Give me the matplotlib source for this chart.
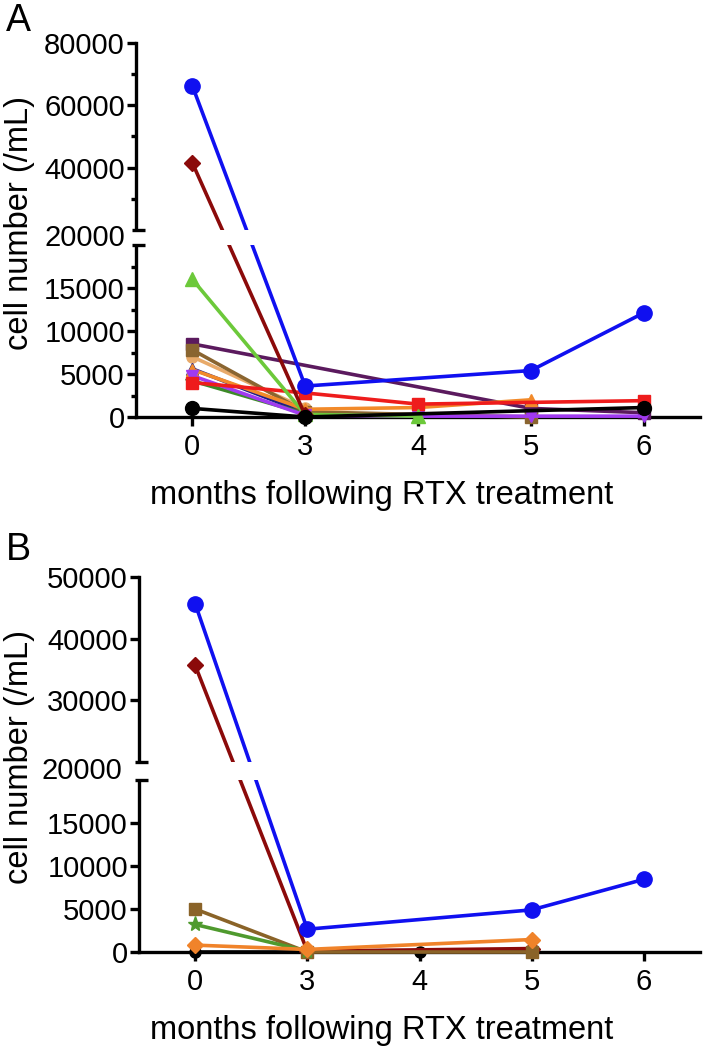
import numpy as np
import matplotlib
matplotlib.use('Agg')
import matplotlib.pyplot as plt
from matplotlib import transforms as mtransforms
from matplotlib.patches import Rectangle
from matplotlib.ticker import FixedLocator, FuncFormatter

plt.rcParams['font.family'] = ['Liberation Sans', 'DejaVu Sans']

months = ['0', '3', '4', '5', '6']

# ---------------- Panel A data (None = not measured) ----------------
a_blue = [66200, 3600, None, 5400, 12100]
a_maroon = [41500, 200, None, None, None]
a_green = [16000, 300, 100, None, None]
a_purple = [8500, None, None, 1000, 500]
a_brown = [7800, 600, None, 0, None]
a_tan = [7000, 1000, None, None, None]
a_navy = [5600, 500, None, None, None]
a_orange = [5500, 900, 1100, 2000, None]
a_violet = [4800, 200, 100, 100, 100]
a_dgreen = [4200, 400, None, None, None]
a_red = [4000, 2800, 1500, None, 1900]
a_black = [1000, 0, None, None, 1100]

# ---------------- Panel B data ----------------
b_blue = [45700, 2650, None, 4900, 8450]
b_maroon = [35700, 100, None, 400, None]
b_brown = [5000, 0, None, 0, None]
b_green = [3200, 100, None, None, None]
b_orange = [800, 300, None, 1450, None]
b_black = [0, 0, 0, 0, None]

series_a = [
    (a_purple, '#5b1a5e', 's', 8),
    (a_tan, '#e8aa6a', 'o', 8),
    (a_navy, '#1c1c8c', '^', 8),
    (a_dgreen, '#3d8a28', '*', 10),
    (a_brown, '#8a6530', 's', 9),
    (a_orange, '#f28a2a', '^', 9),
    (a_violet, '#a03af0', 'v', 8),
    (a_red, '#ee1c1c', 's', 9),
    (a_green, '#6cc93a', '^', 10),
    (a_maroon, '#8b0a0a', 'D', 8),
    (a_black, '#000000', 'o', 10),
    (a_blue, '#1010f0', 'o', 11),
]

series_b = [
    (b_black, '#000000', 'o', 8),
    (b_maroon, '#8b0a0a', 'D', 8),
    (b_brown, '#8a6328', 's', 9),
    (b_green, '#4f9a2e', '*', 11),
    (b_orange, '#f0832a', 'D', 8),
    (b_blue, '#1010f0', 'o', 11),
]


def make_scale(B, G, k):
    def fwd(y):
        y = np.asarray(y, dtype=float)
        return np.where(y <= B, y, B + G + (y - B) * k)

    def inv(z):
        z = np.asarray(z, dtype=float)
        return np.where(z <= B, z, np.where(z < B + G, B, B + (z - B - G) / k))
    return fwd, inv


W, H = 703, 1050
fig = plt.figure(figsize=(W / 100, H / 100), dpi=100)

FS = 21
LFS = 23.5


def panel(rect, series, ymax, B, G, k, majors, minors, letter, letter_xy,
          label_right_px):
    left, top, right, bottom = rect
    ax = fig.add_axes([left / W, 1 - bottom / H, (right - left) / W,
                       (bottom - top) / H])
    ax.set_yscale('function', functions=make_scale(B, G, k))
    for vals, col, mk, ms in series:
        xs = [i for i, v in enumerate(vals) if v is not None]
        ys = [v for v in vals if v is not None]
        ax.plot(xs, ys, color=col, lw=2.6, marker=mk, ms=ms, mec=col,
                mfc=col, clip_on=False, zorder=3)
    ax.set_xlim(-0.5, 4.5)
    ax.set_ylim(0, ymax)
    ax.set_xticks(range(len(months)))
    ax.set_xticklabels(months)
    ax.yaxis.set_major_locator(FixedLocator(majors))
    ax.yaxis.set_minor_locator(FixedLocator(minors))
    ax.yaxis.set_major_formatter(FuncFormatter(lambda v, p: '%d' % round(v)))
    for s in ['top', 'right']:
        ax.spines[s].set_visible(False)
    for s in ['left', 'bottom']:
        ax.spines[s].set_linewidth(2.4)
    ax.tick_params(axis='both', which='major', length=6.5, width=2.4,
                   labelsize=FS, color='black')
    ax.tick_params(axis='y', which='major', pad=1.5)
    ax.tick_params(axis='x', which='major', pad=5)
    ax.tick_params(axis='y', which='minor', length=3.8, width=2.4)
    ax.tick_params(axis='x', which='minor', length=0)

    # break gap in scaled coordinates
    sc = mtransforms.blended_transform_factory(ax.transAxes,
                                               ax.transLimits + ax.transAxes)
    ax.add_patch(Rectangle((-0.012, B), 1.02, G, transform=sc, fc='white',
                           ec='none', clip_on=False, zorder=3.5))
    bt = mtransforms.blended_transform_factory(ax.transAxes, ax.transData)
    wpx = right - left
    for yv in (B, B + 0.01):
        ax.plot([-4 / wpx, 9 / wpx], [yv, yv], color='black', lw=2.4,
                transform=bt, clip_on=False, zorder=4, solid_capstyle='butt')
    ax.text(-(label_right_px) / wpx, B + G / 2, '%d' % B, transform=sc,
            ha='right', va='center', fontsize=FS, zorder=5)

    ax.set_ylabel('cell number (/mL)', fontsize=LFS)
    ax.yaxis.set_label_coords(-(left - 35) / wpx, 0.52)
    ax.set_xlabel('months following RTX treatment', fontsize=LFS)
    ax.xaxis.set_label_coords((382 - left) / wpx, -(480 - 417) / 374)
    fig.text(letter_xy[0] / W, 1 - letter_xy[1] / H, letter, fontsize=27,
             ha='left', va='top')
    return ax


# Panel A: bottom segment 0-20000 spans 172 px, gap 15 px, top 60000 spans 187 px
panel((136, 43, 700, 417), series_a, 80000, 20000, 15 / 172 * 20000,
      (187 / 60000) / (172 / 20000),
      [0, 5000, 10000, 15000, 40000, 60000, 80000],
      [2500, 7500, 12500, 17500, 30000, 50000, 70000],
      'A', (6, 3), 11)

# Panel B: bottom segment 0-20000 spans 172 px, gap 18 px, top 30000 spans 185 px
panel((139, 577, 700, 952), series_b, 50000, 20000, 18 / 172 * 20000,
      (185 / 30000) / (172 / 20000),
      [0, 5000, 10000, 15000, 30000, 40000, 50000],
      [],
      'B', (6, 532), 17)

fig.savefig('out.png', dpi=100)
